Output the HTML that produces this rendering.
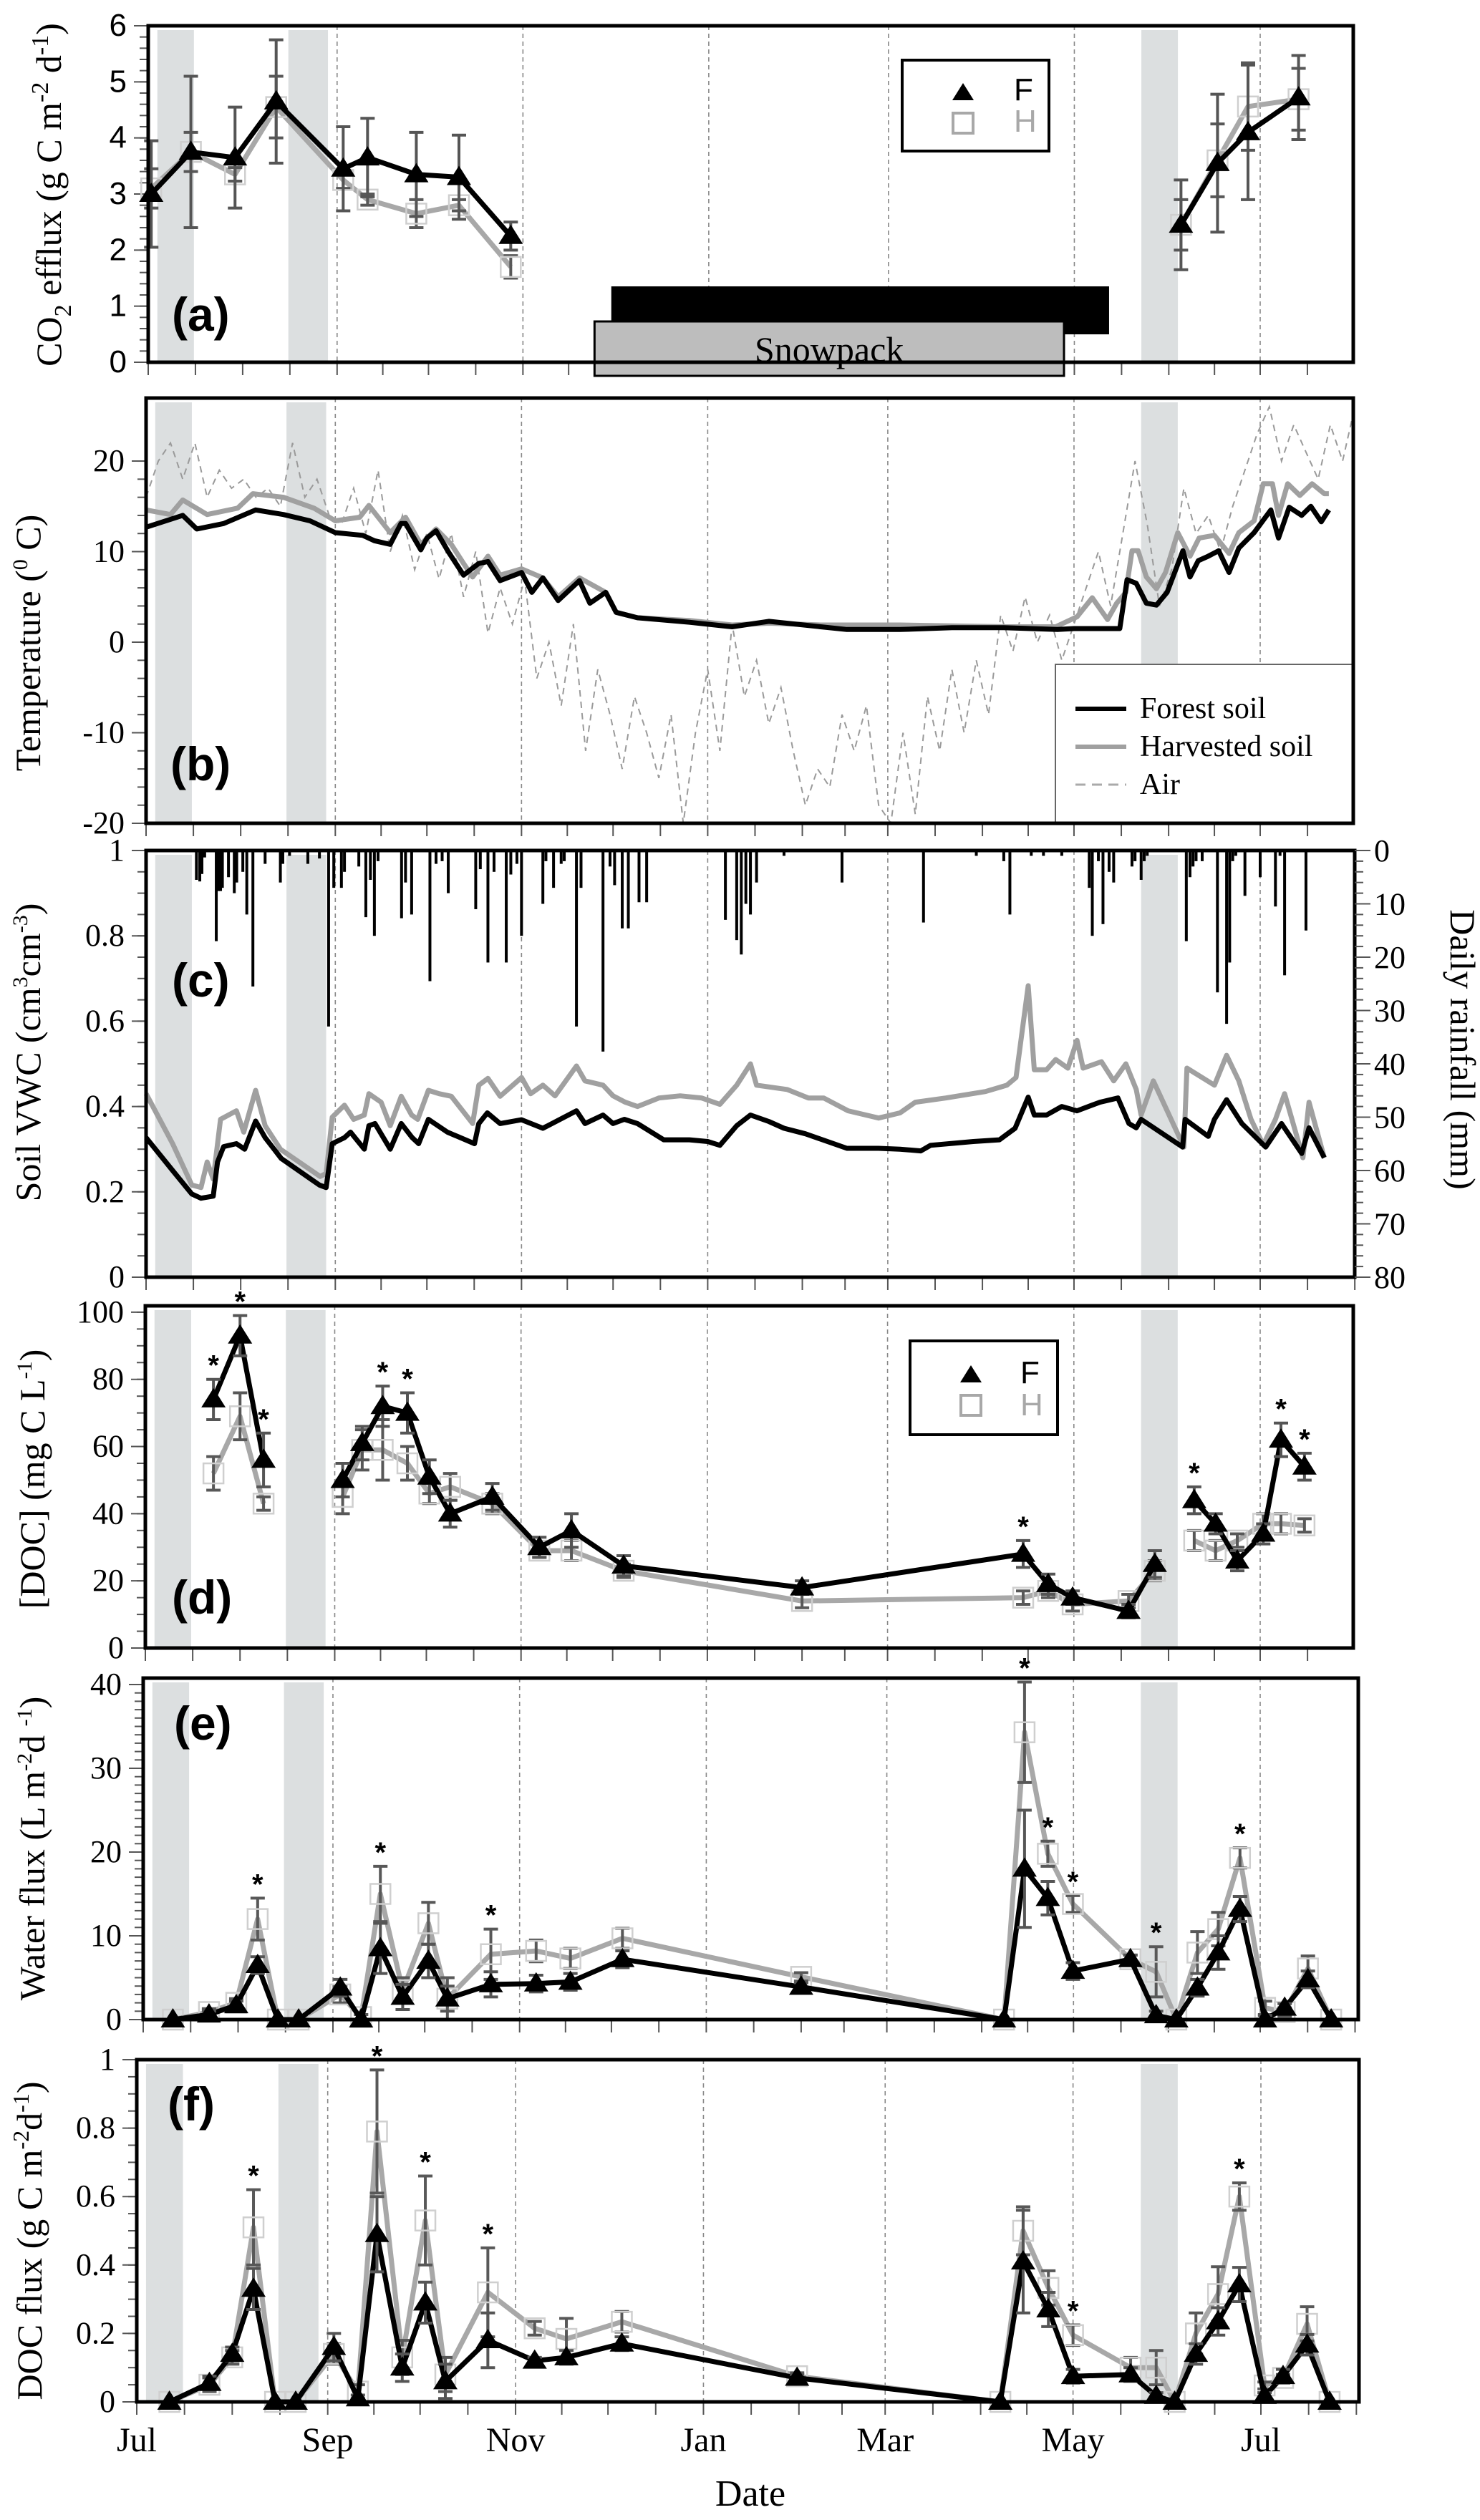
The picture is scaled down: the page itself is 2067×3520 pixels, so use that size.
<!DOCTYPE html>
<html><head><meta charset="utf-8"><title>Soil CO2, temperature, VWC and DOC time series</title>
<style>
html,body{margin:0;padding:0;background:#fff;}
svg{display:block;}
text{font-family:"Liberation Serif",serif;fill:#000;}
.sans{font-family:"Liberation Sans",sans-serif;}
</style></head>
<body>
<svg id="fig" xmlns="http://www.w3.org/2000/svg" width="2067" height="3520" viewBox="0 0 2067 3520"></svg>
<script>
// ---------- Panel (a) CO2 efflux ----------
const aDays=[1,14,28.5,42,64,72,88,102,119,339,351,361,377.6];
const aGrp=[0,0,0,0,0,0,0,0,0,1,1,1,1];
const aF=[3.0,3.75,3.65,4.65,3.45,3.65,3.35,3.3,2.25,2.45,3.55,4.1,4.72];
const aFe=[0.95,1.35,0.9,1.1,0.75,0.7,0.75,0.75,0.25,0.8,1.23,1.2,0.75];
const aH=[3.1,3.75,3.35,4.55,3.25,2.9,2.65,2.8,1.7,2.45,3.6,4.56,4.69];
const aHe=[0.35,0.35,0.12,0.55,0.15,0.1,0.25,0.1,0.2,0.45,0.65,0.78,0.55];
const aTicks=[0,1,2,3,4,5,6];
const snowForest=[152,315.4];
const snowHarv=[146.5,300.6];
// ---------- Panel (b) temperature ----------
const bFDays=[0,12,16.6,25.4,35.9,45,53.7,62,71,74.8,80,83.5,85,90,92,95,99,104,109,112,116,123,126.4,130,135,142,145.4,150.6,154,161,178,192,204,221,229.6,247,264,281,298.6,304,319,321.4,324.4,327.7,331,334.5,339.7,342,344.7,348,351.4,354.8,358,363,368.5,371,374.5,378.6,381.6,385,387.5];
const bF=[12.7,14,12.5,13.1,14.6,14.1,13.4,12.1,11.8,11.2,10.8,13.1,13.1,10.2,11.5,12.3,10,7.4,8.7,8.9,6.8,7.7,5.5,7.1,4.6,6.8,4.3,5.5,3.3,2.7,2.2,1.7,2.3,1.7,1.4,1.4,1.6,1.6,1.4,1.5,1.5,6.9,6.5,4.3,4.1,5.5,10.1,7.2,9,9.5,10.1,7.7,10.4,12.1,14.6,11.5,14.9,14,15,13.3,14.6];
const bHDays=[0,8,12,20,30,35,45,55,62,70,73,80,85,90,95,100,104,107,112,116,123,130,135,142,150.6,154,161,178,192,204,221,247,281,298,305,310,315,318,321,323,325,327.7,331,334,338,342,345,350,354.8,358,363,366,369,371,374,378,382,386,387.5];
const bH=[14.6,14.1,15.7,14.1,14.8,16.4,16,14.8,13.4,13.8,15.1,12.1,13.8,10.8,12.5,10.8,8.7,7.2,9.5,7.4,8.1,7.1,5,7.1,5.5,3.3,2.7,2.4,1.9,2.1,1.9,1.9,1.7,1.7,2.8,4.9,2.5,4.3,5.5,10.1,10.1,7.2,5.9,7.7,12.1,9.5,11.5,11.8,9.8,12.1,13.4,17.5,17.5,14,17.5,16.2,17.5,16.4,16.4];
const airStartDay=0, airStepDays=4;
const bAir=[16,20,22,18,22,16,19,17,18,16,17,15,22,16,18,14,13,17,12,19,10,14,8,12,7,12,5,10,1,6,2,7,-4,0,-7,2,-12,-3,-8,-14,-6,-10,-15,-8,-20,-10,-3,-12,2,-6,-2,-9,-5,-12,-18,-14,-16,-8,-12,-7,-18,-20,-10,-19,-6,-12,-3,-10,-2,-8,3,-1,5,0,3,-2,2,6,10,4,12,20,13,4,8,17,12,14,10,15,19,23,26,20,24,21,18,24,20,26];
const bTicks=[-20,-10,0,10,20];
// ---------- Panel (c) VWC and rainfall ----------
const cFDays=[0,8.7,15,18,22,23.4,25.4,29.6,32.3,35.9,39,44.3,56.8,59,61,65,67,71.5,73,75,80,83.6,87.2,89.3,92.5,98.7,107.6,109,111.8,116,123,130,141,143.8,149.7,153,156.7,161,169.6,178,184,188,193.5,198,204,209,216,229.6,240,247,253.8,257,271,279.6,284.7,289,291,295,300,305,312.5,318.4,322,324.4,326,339.6,340.4,348,350,354,359,366.8,372,378.6,381,386];
const cF=[0.327,0.25,0.195,0.185,0.19,0.27,0.306,0.313,0.3,0.366,0.327,0.278,0.216,0.21,0.313,0.327,0.34,0.3,0.355,0.36,0.3,0.36,0.327,0.313,0.37,0.34,0.313,0.36,0.385,0.36,0.369,0.349,0.39,0.36,0.38,0.36,0.37,0.36,0.322,0.322,0.318,0.309,0.355,0.38,0.365,0.349,0.336,0.302,0.302,0.3,0.296,0.309,0.318,0.322,0.349,0.422,0.38,0.38,0.4,0.39,0.41,0.42,0.36,0.35,0.37,0.305,0.37,0.33,0.37,0.416,0.36,0.305,0.36,0.29,0.35,0.28];
const cHDays=[0,8.7,15,18,20,22,24.4,29.6,32,35.9,39,44,57,59,61,65,68,71.5,73,77,80,83.6,87,89,92.5,96,100,107,109,112,116,123,126,130,134,141,143.8,149.7,153,157,161,168,175,182,188,193.5,198,200,210,217,222,230,240,247,252,262,275,282,285,289,291,295,298,302,305,307,313,317,321,324.4,326,330,340,341,350,354,358,362,366,370,373,379,381,386];
const cH=[0.43,0.313,0.216,0.21,0.27,0.23,0.37,0.39,0.34,0.438,0.355,0.3,0.236,0.243,0.375,0.403,0.37,0.38,0.43,0.41,0.355,0.424,0.38,0.37,0.438,0.43,0.424,0.36,0.45,0.466,0.424,0.468,0.43,0.45,0.425,0.495,0.46,0.45,0.425,0.41,0.4,0.42,0.425,0.42,0.405,0.45,0.5,0.45,0.44,0.42,0.42,0.39,0.373,0.385,0.41,0.42,0.435,0.45,0.468,0.683,0.486,0.486,0.51,0.49,0.555,0.49,0.505,0.46,0.5,0.44,0.38,0.46,0.305,0.49,0.45,0.52,0.46,0.37,0.31,0.37,0.43,0.28,0.41,0.28];
const rainDays=[16.5,17.6,18.3,19.2,23,23.7,24.4,25,27,28.9,29.7,31.7,33,35,39,44,44.8,47,53,56.8,59.8,61.5,64,65,69.7,72,73.5,74.8,76,83.7,85,87,93,95,97,99,108,109.5,112,114,118,119.5,121.5,123,130,131,133.5,136,137,141,142.5,149.7,152,153.5,156,158,161.5,164,189.8,193.5,195,196.5,198,200,209,228,254.7,272,281,283,290,294,300,309,310,312,313.5,315.5,317,323,324,326,327,328,340.8,342,343,344,346,351,354,355,356,357,360,365,370,371.5,373,380];
const rainMm=[5.5,5.8,4.4,1.3,17,7.6,7.6,7,5,8,6,4,12,25.5,2.5,6,2.5,1,2.5,1.5,33,7,7,4,3,12.5,5.5,16,2,12.7,6,12,24.5,2.5,2,8,11,3.5,21,4,21,4.5,2.5,16,10,2,7,2.5,2,33,7,37.7,3,6.5,14.6,14.6,9.7,9.7,13,16.8,19.5,10,12,6,1,6,13.5,1,2,12,1,1,1,7,16,2,13.8,4,6,3,2,5.5,2,1,17,5,3,2,2,26.6,32.5,21,2,1,8.5,5,10.5,1,23.4,15];
const cTicks=[0,0.2,0.4,0.6,0.8,1];
const cTickLabels=["0","0.2","0.4","0.6","0.8","1"];
const rainTicks=[0,10,20,30,40,50,60,70,80];
// ---------- Panel (d) DOC concentration ----------
const dDays=[22.3,31,38.7,64.6,71,77.7,85.8,93,99.8,113.6,129,139.5,156.6,215,287.4,295.6,303.6,321.9,330.5,343.4,350.4,357.5,366,371.8,379.5];
const dGrp=[0,0,0,1,1,1,1,1,1,1,1,1,1,1,1,1,1,1,1,2,2,2,2,2,2];
const dF=[74,93,56,50,61,72,70,51,40,45,30,35,24.5,18,28,19,15,11,25,44,37,26,34,62,54];
const dFe=[6,6,8,5,5,6,6,5,4,4,3,5,3,2,4,3,2,2,4,4,3,3,3,5,4];
const dH=[52,69,43,45,59,59,55,46,48,43,29,29,23,14,15,17,13,14,23,32,29,32,37,37,36.5];
const dHe=[5,7,2,5,6,9,5,3,4,3,2,3,2,2,2,2,2,2,3,3,3,2,3,3,2];
const dStar=[1,1,1,0,0,1,1,0,0,0,0,0,0,0,1,0,0,0,0,1,0,0,0,1,1];
const dTicks=[0,20,40,60,80,100];
// ---------- Panel (e) water flux ----------
const eDays=[9.7,21.5,30.4,37.4,44,50.8,64.4,71.2,77.5,84.8,93.2,99.4,113.6,128.4,139.6,156.6,215,281.3,288,295.6,303.8,322.6,331,337.6,344.5,351.3,358.4,366.6,373,380.6,388.2];
const eF=[0,0.6,1.7,6.5,0,0,3.8,0,8.5,2.7,7,2.5,4.2,4.3,4.5,7.2,3.9,0,18,14.5,5.8,7.2,0.5,0,3.8,8,13.2,0,1.4,4.8,0];
const eFe=[0,0.4,0.5,1,0,0,1,0,3,1.5,2,1.5,1.5,1,1,1,0.5,0,7,2,1,0.5,0.5,0,1,2,1.5,0.5,0.5,1,0];
const eH=[0,0.9,2,12,0,0,3,0.3,15,3.5,11.5,2.5,7.8,8.2,7.3,9.7,5.1,0,34.3,19.8,13.8,7.2,5.7,0,8,10.8,19.3,1.4,0.9,6.1,0];
const eHe=[0,0.4,0.5,2.5,0,0,1,0.3,3.3,1.5,2.5,2.5,3,1.3,1.2,1.2,0.5,0,6,1.5,1,0.5,3,0,2.5,2,1.2,0.8,0.5,1.5,0];
const eStar=[0,0,0,1,0,0,0,0,1,0,0,0,1,0,0,0,0,0,1,1,1,0,1,0,0,0,1,0,0,0,0];
const eTicks=[0,10,20,30,40];
// ---------- Panel (f) DOC flux ----------
const fDays=[10.6,23.6,31,37.9,44.9,51.6,64,71.8,78,86.2,93.7,100.2,114,129.2,139.5,157.5,214.4,280.4,287.8,296,304,322.7,331,337,343.9,351.1,358,366.2,372.2,380,387.3];
const fF=[0,0.055,0.14,0.33,0,0,0.16,0.01,0.49,0.1,0.29,0.06,0.18,0.12,0.13,0.17,0.07,0,0.41,0.27,0.075,0.08,0.017,0,0.14,0.235,0.343,0.017,0.075,0.167,0];
const fFe=[0,0.02,0.02,0.06,0,0,0.04,0.01,0.11,0.04,0.06,0.05,0.08,0.01,0.02,0.02,0.01,0,0.15,0.05,0.02,0.02,0.01,0,0.03,0.04,0.05,0.01,0.02,0.03,0];
const fH=[0,0.05,0.13,0.51,0,0,0.14,0.03,0.79,0.13,0.53,0.08,0.32,0.215,0.184,0.234,0.075,0,0.5,0.333,0.195,0.1,0.1,0,0.2,0.315,0.6,0.048,0.07,0.228,0];
const fHe=[0,0.02,0.02,0.11,0,0,0.03,0.02,0.18,0.05,0.13,0.05,0.13,0.02,0.06,0.03,0.01,0,0.07,0.05,0.03,0.03,0.05,0,0.06,0.08,0.04,0.01,0.01,0.05,0];
const fStar=[0,0,0,1,0,0,0,0,1,0,1,0,1,0,0,0,0,0,0,0,1,0,0,0,0,0,1,0,0,0,0];
const fTicks=[0,0.2,0.4,0.6,0.8,1];
const fTickLabels=["0","0.2","0.4","0.6","0.8","1"];
// ---------- shared time axis ----------
const monthLabels=["Jul","Sep","Nov","Jan","Mar","May","Jul"];
const monthLabelDays=[0,62,123,184,243,304,365];
const monthStartDays=[0,31,62,92,123,153,184,215,243,274,304,335,365,396];
const dashedDays=[62,123,184,243,304,365];
const shadeDays=[[3,15],[46,59],[326,338]];

// ================= drawing =================
const NS="http://www.w3.org/2000/svg";
const svg=document.getElementById('fig');
function mk(tag,attrs,parent){const e=document.createElementNS(NS,tag);for(const k in attrs)e.setAttribute(k,attrs[k]);(parent||svg).appendChild(e);return e;}

const P={
 a:{L:207,R:1890,T:36,B:506,y0:0,y1:6,J:1760},
 b:{L:204,R:1890,T:556,B:1150,y0:-20,y1:26.96,J:1760},
 c:{L:204,R:1892,T:1188,B:1784,y0:0,y1:1,J:1760},
 d:{L:203,R:1890,T:1824,B:2302,y0:0,y1:101.9,J:1760},
 e:{L:200,R:1897,T:2344,B:2821,y0:0,y1:40.77,J:1760},
 f:{L:191,R:1898,T:2877,B:3355,y0:0,y1:1,J:1761}
};
function xs(p,d){return p.L+(p.J-p.L)*d/365;}
function ys(p,v){return p.B-(v-p.y0)/(p.y1-p.y0)*(p.B-p.T);}

function panelBase(key,p,ticks,labels,minorStep,sansTicks){
  const g=mk('g',{});
  
  
  shadeDays.forEach((s,i)=>{
    const r=mk('rect',{x:xs(p,s[0]),y:p.T+6,width:xs(p,s[1])-xs(p,s[0]),height:p.B-p.T-6,fill:'#dcdfe0'},g);
    
    
  });
  dashedDays.forEach(d=>{
    const l=mk('line',{x1:xs(p,d),x2:xs(p,d),y1:p.T,y2:p.B,stroke:'#888','stroke-width':1.6,'stroke-dasharray':'6 5'},g);
    
    
  });
  // x ticks (month + mid-month)
  const xt=mk('g',{stroke:'#555','stroke-width':2},g);
  
  
  for(let i=0;i<monthStartDays.length;i++){
    const d=monthStartDays[i];
    if(xs(p,d)<=p.R+1) mk('line',{x1:xs(p,d),x2:xs(p,d),y1:p.B,y2:p.B+18},xt);
    if(i<monthStartDays.length-1){const m=(d+monthStartDays[i+1])/2; if(xs(p,m)<=p.R+1) mk('line',{x1:xs(p,m),x2:xs(p,m),y1:p.B,y2:p.B+18},xt);}
  }
  // y ticks
  const yt=mk('g',{stroke:'#555','stroke-width':2},g);
  
  
  const lo=ticks[0],hi=ticks[ticks.length-1];
  for(let v=lo;v<=hi+1e-9;v+=minorStep){mk('line',{x1:p.L-12,x2:p.L,y1:ys(p,v),y2:ys(p,v)},yt);}
  ticks.forEach((v,i)=>{
    mk('line',{x1:p.L-20,x2:p.L,y1:ys(p,v),y2:ys(p,v)},yt);
    const t=mk('text',{x:p.L-30,y:ys(p,v)+14,'text-anchor':'end','font-size':sansTicks?44:44,class:sansTicks?'sans':''},g);
    t.textContent=labels?labels[i]:String(v);
    
    
  });
  return g;
}
function frame(key,p){
  const r=mk('rect',{x:p.L,y:p.T,width:p.R-p.L,height:p.B-p.T,fill:'none',stroke:'#000','stroke-width':5});
  
  
}
function pathFrom(p,days,vals,grp,gid){
  let s='',started=false;
  for(let i=0;i<days.length;i++){
    if(grp&&grp[i]!==gid)continue;
    s+=(started?'L':'M')+xs(p,days[i]).toFixed(1)+','+ys(p,vals[i]).toFixed(1);started=true;
  }
  return s;
}
function groupsOf(grp,n){if(!grp)return [null];return [...new Set(grp)];}
function errbar(g,p,d,v,e,color){
  if(e<=0)return;
  const x=xs(p,d),y1=ys(p,v-e),y2=ys(p,v+e);
  mk('line',{x1:x,x2:x,y1:y1,y2:y2,stroke:color,'stroke-width':4},g);
  mk('line',{x1:x-10,x2:x+10,y1:y1,y2:y1,stroke:color,'stroke-width':4},g);
  mk('line',{x1:x-10,x2:x+10,y1:y2,y2:y2,stroke:color,'stroke-width':4},g);
}
function series(key,p,days,F,Fe,H,He,grp,star){
  const gH=mk('g',{});
  
  
  groupsOf(grp).forEach(gid=>{mk('path',{d:pathFrom(p,days,H,grp,gid),fill:'none',stroke:'#a8a8a8','stroke-width':7,'stroke-linejoin':'round'},gH);});
  days.forEach((d,i)=>errbar(gH,p,d,H[i],He[i],'#585858'));
  days.forEach((d,i)=>{
    const s=mk('rect',{x:xs(p,d)-14,y:ys(p,H[i])-14,width:28,height:28,fill:'none',stroke:'#cfcfcf','stroke-width':2.5},gH);
    
    
  });
  const gF=mk('g',{});
  
  
  groupsOf(grp).forEach(gid=>{mk('path',{d:pathFrom(p,days,F,grp,gid),fill:'none',stroke:'#000','stroke-width':7,'stroke-linejoin':'round'},gF);});
  days.forEach((d,i)=>errbar(gF,p,d,F[i],Fe[i],'#555'));
  days.forEach((d,i)=>{
    const x=xs(p,d),y=ys(p,F[i]);
    const t=mk('path',{d:`M${x-17},${y+11}L${x},${y-16}L${x+17},${y+11}Z`,fill:'#000'},gF);
    
    
  });
  if(star){days.forEach((d,i)=>{ if(star[i]){
    const top=Math.max(F[i]+Fe[i],H[i]+He[i]);
    const t=mk('text',{x:xs(p,d),y:ys(p,top)-6,'text-anchor':'middle','font-size':40,'font-weight':'bold',class:'sans'});
    t.textContent='*';
    
    
  }});}
}
function panelLetter(txt,x,y){
  const t=mk('text',{x:x,y:y,'font-size':66,'font-weight':'bold',class:'sans'});
  t.textContent=txt;
  
  
}
function yTitle(x,y,html,name,rot){
  const t=mk('text',{x:0,y:0,transform:`translate(${x},${y}) rotate(${rot||-90})`,'text-anchor':'middle','font-size':50});
  t.innerHTML=html;
  
  
  return t;
}

// ----- Panel a -----
(function(){
  const p=P.a;
  panelBase('a',p,aTicks,null,0.2,true);
  // snowpack bars
  const sb=mk('rect',{x:xs(p,snowForest[0]),y:400,width:xs(p,snowForest[1])-xs(p,snowForest[0]),height:67,fill:'#000'});
  
  
  const sg=mk('rect',{x:xs(p,snowHarv[0]),y:449,width:xs(p,snowHarv[1])-xs(p,snowHarv[0]),height:76,fill:'#bdbdbd',stroke:'#000','stroke-width':3});
  
  
  const st=mk('text',{x:(xs(p,snowHarv[0])+xs(p,snowHarv[1]))/2,y:505,'text-anchor':'middle','font-size':50});
  st.textContent='Snowpack';
  
  
  series('a',p,aDays,aF,aFe,aH,aHe,aGrp,null);
  frame('a',p);
  const lg=mk('g',{});
  
  
  mk('rect',{x:1260,y:84,width:205,height:127,fill:'#fff',stroke:'#000','stroke-width':4},lg);
  mk('path',{d:'M1330,140L1345,116L1360,140Z',fill:'#000'},lg);
  mk('rect',{x:1331,y:158,width:28,height:28,fill:'none',stroke:'#a8a8a8','stroke-width':4},lg);
  const t1=mk('text',{x:1416,y:140,'font-size':44,class:'sans'},lg);t1.textContent='F';
  
  
  const t2=mk('text',{x:1416,y:184,'font-size':44,class:'sans',fill:'#a8a8a8',style:'fill:#a8a8a8'},lg);t2.textContent='H';
  
  
  panelLetter('(a)',240,462);
  yTitle(85,272,'CO<tspan font-size="34" dy="14">2</tspan><tspan dy="-14"> efflux (g C m</tspan><tspan font-size="34" dy="-18">-2</tspan><tspan dy="18"> d</tspan><tspan font-size="34" dy="-18">-1</tspan><tspan dy="18">)</tspan>','y-axis-title-co2');
})();

// ----- Panel b -----
(function(){
  const p=P.b;
  panelBase('b',p,bTicks,null,2,false);
  const ga=mk('path',{d:(function(){let s='';bAir.forEach((v,i)=>{const d=airStartDay+i*airStepDays;s+=(i?'L':'M')+xs(p,d).toFixed(1)+','+ys(p,v).toFixed(1);});return s;})(),fill:'none',stroke:'#9a9a9a','stroke-width':2,'stroke-dasharray':'9 7'});
  
  
  const gh=mk('path',{d:pathFrom(p,bHDays,bH),fill:'none',stroke:'#a0a0a0','stroke-width':7,'stroke-linejoin':'round'});
  
  
  const gf=mk('path',{d:pathFrom(p,bFDays,bF),fill:'none',stroke:'#000','stroke-width':7,'stroke-linejoin':'round'});
  
  
  frame('b',p);
  const lg=mk('g',{});
  
  
  mk('rect',{x:1474,y:928,width:p.R-1474,height:p.B-928,fill:'#fff',stroke:'#666','stroke-width':2},lg);
  mk('line',{x1:1502,x2:1573,y1:990,y2:990,stroke:'#000','stroke-width':6},lg);
  mk('line',{x1:1502,x2:1573,y1:1043,y2:1043,stroke:'#a0a0a0','stroke-width':6},lg);
  mk('line',{x1:1502,x2:1573,y1:1096,y2:1096,stroke:'#aaa','stroke-width':3,'stroke-dasharray':'14 9'},lg);
  [['Forest soil',1003],['Harvested soil',1056],['Air',1109]].forEach(a=>{
    const t=mk('text',{x:1592,y:a[1],'font-size':42},lg);t.textContent=a[0];
    
    
  });
  mk('rect',{x:p.L,y:p.T,width:p.R-p.L,height:p.B-p.T,fill:'none',stroke:'#000','stroke-width':5});
  panelLetter('(b)',238,1090);
  yTitle(56,898,'Temperature (<tspan font-size="30" dy="-18">0</tspan><tspan dy="18"> C)</tspan>','y-axis-title-temperature');
})();

// ----- Panel c -----
(function(){
  const p=P.c;
  panelBase('c',p,cTicks,cTickLabels,0.05,false);
  const rg=mk('g',{});
  
  
  rainDays.forEach((d,i)=>{
    const b=mk('rect',{x:xs(p,d)-2,y:p.T,width:4,height:rainMm[i]/80*(p.B-p.T),fill:'#000'},rg);
    
    
  });
  const gh=mk('path',{d:pathFrom(p,cHDays,cH),fill:'none',stroke:'#a0a0a0','stroke-width':7,'stroke-linejoin':'round'});
  
  
  const gf=mk('path',{d:pathFrom(p,cFDays,cF),fill:'none',stroke:'#000','stroke-width':7,'stroke-linejoin':'round'});
  
  
  frame('c',p);
  // right rainfall axis
  const ra=mk('g',{stroke:'#555','stroke-width':2});
  
  
  const rs=v=>p.T+v/80*(p.B-p.T);
  for(let v=0;v<=80;v+=2){mk('line',{x1:p.R,x2:p.R+12,y1:rs(v),y2:rs(v)},ra);}
  rainTicks.forEach(v=>{
    mk('line',{x1:p.R,x2:p.R+22,y1:rs(v),y2:rs(v)},ra);
    const t=mk('text',{x:1919,y:rs(v)+15,'font-size':44});t.textContent=String(v);
    
    
  });
  panelLetter('(c)',240,1392);
  yTitle(56,1470,'Soil VWC (cm<tspan font-size="30" dy="-18">3</tspan><tspan dy="18">cm</tspan><tspan font-size="30" dy="-18">-3</tspan><tspan dy="18">)</tspan>','y-axis-title-vwc');
  yTitle(2026,1466,'Daily rainfall (mm)','y-axis-title-rainfall',90);
})();

// ----- Panel d -----
(function(){
  const p=P.d;
  panelBase('d',p,dTicks,null,5,false);
  series('d',p,dDays,dF,dFe,dH,dHe,dGrp,dStar);
  frame('d',p);
  const lg=mk('g',{});
  
  
  mk('rect',{x:1271,y:1873,width:206,height:131,fill:'#fff',stroke:'#000','stroke-width':4},lg);
  mk('path',{d:'M1341,1931L1356,1907L1371,1931Z',fill:'#000'},lg);
  mk('rect',{x:1342,y:1949,width:28,height:28,fill:'none',stroke:'#a8a8a8','stroke-width':4},lg);
  const t1=mk('text',{x:1425,y:1932,'font-size':44,class:'sans'},lg);t1.textContent='F';
  
  
  const t2=mk('text',{x:1425,y:1977,'font-size':44,class:'sans',style:'fill:#a8a8a8'},lg);t2.textContent='H';
  
  
  panelLetter('(d)',240,2254);
  yTitle(62,2066,'[DOC] (mg C L<tspan font-size="30" dy="-18">-1</tspan><tspan dy="18">)</tspan>','y-axis-title-doc');
})();

// ----- Panel e -----
(function(){
  const p=P.e;
  panelBase('e',p,eTicks,null,1,false);
  series('e',p,eDays,eF,eFe,eH,eHe,null,eStar);
  frame('e',p);
  panelLetter('(e)',243,2430);
  yTitle(62,2582,'Water flux (L m<tspan font-size="30" dy="-18">-2</tspan><tspan dy="18">d </tspan><tspan font-size="30" dy="-18">-1</tspan><tspan dy="18">)</tspan>','y-axis-title-water-flux');
})();

// ----- Panel f -----
(function(){
  const p=P.f;
  panelBase('f',p,fTicks,fTickLabels,0.05,false);
  series('f',p,fDays,fF,fFe,fH,fHe,null,fStar);
  frame('f',p);
  panelLetter('(f)',234,2962);
  yTitle(58,3130,'DOC flux (g C m<tspan font-size="32" dy="-18">-2</tspan><tspan dy="18">d</tspan><tspan font-size="32" dy="-18">-1</tspan><tspan dy="18">)</tspan>','y-axis-title-doc-flux');
  monthLabels.forEach((m,i)=>{
    const t=mk('text',{x:xs(p,monthLabelDays[i]),y:3424,'text-anchor':'middle','font-size':48});
    t.textContent=m;
    
    
  });
  const dt=mk('text',{x:1048,y:3500,'text-anchor':'middle','font-size':52});
  dt.textContent='Date';
  
  
})();
</script>
</body></html>
